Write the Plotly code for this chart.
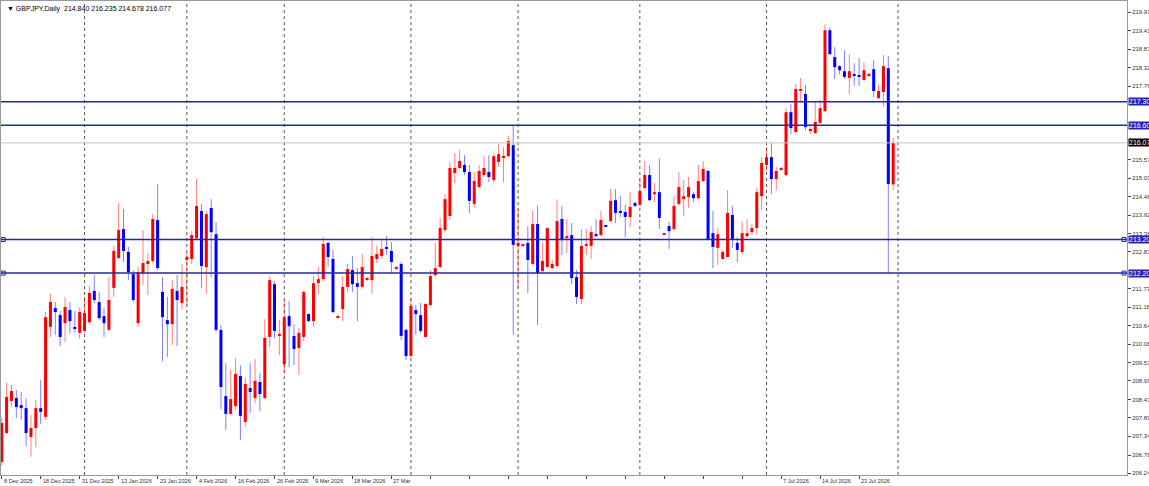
import plotly.graph_objects as go

# GBPJPY daily bars, bar 1 = 8 Dec 2025
opens = [206.58, 207.44, 208.39, 208.48, 208.27, 208.18, 207.32, 207.59, 208.18, 207.92,
         210.60, 211.16, 210.95, 210.71, 211.10, 210.57, 210.42, 210.48, 210.74, 211.67,
         211.34, 210.92, 210.51, 211.76, 212.65, 213.51, 212.83, 212.17, 210.71, 212.20,
         212.47, 212.56, 213.78, 211.64, 210.80, 210.68, 211.67, 211.31, 212.59, 212.62,
         213.24, 214.05, 212.38, 214.14, 213.36, 210.51, 208.54, 208.01, 208.24, 209.14,
         207.77, 208.78, 208.48, 208.96, 208.48, 210.30, 211.87, 210.33, 209.49, 210.92,
         210.33, 209.97, 210.30, 210.98, 210.77, 211.90, 212.02, 213.10, 212.62, 210.89,
         211.13, 211.79, 212.29, 211.90, 211.79, 212.02, 211.99, 212.62, 212.71, 212.95,
         212.86, 212.32, 212.47, 210.51, 209.73, 211.10, 210.95, 210.30, 211.25, 212.14,
         212.38, 213.48, 213.90, 215.18, 215.33, 215.42, 215.21, 214.26, 214.76, 215.12,
         215.21, 214.97, 215.51, 215.65, 215.68, 216.01, 213.01, 213.01, 213.10, 212.47,
         213.66, 212.26, 212.38, 212.35, 212.41, 213.81, 213.24, 213.33, 212.08, 211.43,
         213.01, 213.01, 213.36, 213.33, 213.61, 213.75, 214.37, 214.05, 214.02, 213.87,
         214.29, 214.23, 214.73, 215.12, 214.55, 214.61, 213.36, 213.60, 213.51, 214.26,
         214.40, 214.46, 214.55, 214.43, 214.94, 215.24, 213.39, 212.95, 212.62, 212.68,
         213.93, 213.10, 212.83, 213.30, 213.42, 213.54, 214.49, 215.42, 215.65, 215.00,
         215.27, 215.12, 216.99, 216.40, 217.62, 217.53, 216.43, 216.37, 216.67, 217.02,
         219.43, 218.63, 218.36, 218.21, 218.01, 218.12, 218.07, 217.95, 218.07, 218.27,
         217.41, 217.59, 218.30, 214.840]

highs = [207.89, 208.93, 208.87, 208.72, 208.66, 208.48, 207.98, 208.42, 209.02, 211.04,
         211.58, 211.34, 211.07, 211.49, 211.34, 211.07, 211.19, 211.49, 211.82, 212.14,
         211.64, 211.16, 212.08, 213.01, 214.29, 214.11, 212.98, 212.29, 212.38, 213.48,
         212.80, 213.96, 214.85, 212.08, 211.49, 211.99, 212.14, 212.47, 212.83, 213.45,
         215.00, 214.26, 214.05, 214.40, 213.72, 210.65, 209.52, 209.32, 209.67, 209.46,
         209.08, 209.52, 209.64, 209.23, 210.83, 212.11, 211.96, 210.80, 211.40, 211.37,
         210.68, 210.57, 211.67, 211.01, 212.11, 212.38, 213.27, 213.12, 212.89, 210.95,
         212.11, 212.47, 212.71, 212.35, 212.77, 212.08, 213.27, 213.01, 213.21, 213.30,
         213.12, 212.41, 212.53, 210.54, 211.46, 211.25, 211.31, 211.31, 212.29, 213.10,
         213.84, 214.55, 215.51, 215.77, 215.86, 215.71, 215.42, 215.21, 215.42, 215.68,
         215.71, 215.77, 216.04, 215.95, 216.28, 216.61, 214.11, 213.04, 213.60, 214.05,
         214.20, 213.10, 213.57, 212.59, 214.40, 214.20, 213.81, 213.69, 212.29, 213.51,
         213.51, 213.60, 213.81, 214.05, 213.63, 214.70, 214.70, 214.49, 214.23, 214.61,
         214.32, 215.00, 215.54, 215.42, 214.88, 215.62, 213.39, 213.72, 214.46, 215.21,
         214.97, 215.06, 214.61, 215.42, 215.54, 215.27, 214.05, 213.54, 212.89, 214.67,
         214.20, 213.27, 213.72, 213.81, 213.66, 214.73, 215.65, 215.95, 216.07, 215.36,
         215.36, 217.11, 217.23, 217.83, 218.01, 217.80, 216.55, 217.29, 217.35, 219.61,
         219.52, 218.93, 218.39, 218.84, 218.72, 218.45, 218.60, 218.48, 218.18, 218.54,
         217.80, 218.69, 218.66, 216.235]

lows = [206.46, 207.41, 208.21, 207.89, 207.83, 207.05, 206.73, 207.02, 207.71, 207.83,
        210.30, 210.36, 210.03, 210.15, 210.42, 210.42, 210.24, 210.42, 210.68, 211.31,
        210.80, 210.30, 210.48, 211.49, 212.62, 212.53, 211.99, 211.34, 210.60, 211.85,
        211.55, 212.50, 212.29, 209.58, 209.70, 210.06, 210.03, 211.13, 211.25, 212.47,
        213.18, 211.76, 211.58, 212.08, 210.45, 208.15, 207.53, 207.98, 208.12, 207.23,
        207.62, 208.04, 208.33, 208.09, 208.45, 210.00, 210.27, 209.76, 209.23, 209.40,
        209.46, 209.17, 210.18, 210.74, 210.60, 211.58, 211.96, 212.38, 211.01, 210.86,
        210.77, 211.64, 211.64, 210.77, 211.73, 211.96, 211.58, 212.50, 212.62, 212.74,
        212.20, 212.29, 210.21, 209.61, 209.70, 210.36, 210.42, 210.27, 211.19, 212.08,
        212.35, 213.42, 213.78, 214.88, 215.30, 215.12, 213.99, 214.14, 214.73, 215.06,
        214.91, 214.91, 215.36, 214.91, 215.65, 210.36, 211.76, 212.99, 211.61, 212.44,
        210.65, 212.20, 212.35, 212.32, 212.38, 212.74, 212.80, 211.87, 211.28, 211.28,
        212.74, 212.62, 213.27, 213.30, 213.57, 213.72, 213.69, 213.87, 213.27, 213.57,
        214.17, 214.20, 214.70, 214.35, 214.32, 213.51, 213.33, 212.92, 213.45, 214.20,
        213.90, 214.14, 214.32, 214.40, 214.91, 213.18, 212.35, 212.44, 212.59, 212.68,
        212.95, 212.53, 212.77, 213.24, 213.33, 213.33, 214.08, 215.24, 214.55, 214.67,
        215.24, 215.09, 216.34, 216.37, 217.29, 216.46, 216.34, 216.34, 216.64, 216.99,
        218.69, 217.98, 218.12, 217.98, 217.53, 217.77, 217.77, 217.92, 218.04, 217.44,
        217.38, 217.14, 212.20, 214.678]

closes = [207.74, 208.51, 208.69, 208.21, 208.18, 207.44, 207.59, 208.18, 208.07, 210.89,
          211.34, 211.04, 210.30, 211.19, 210.77, 210.54, 211.04, 211.01, 211.61, 211.40,
          210.86, 210.71, 211.40, 212.86, 213.48, 212.86, 212.23, 211.40, 212.23, 212.50,
          212.56, 213.81, 212.35, 210.89, 210.68, 211.73, 211.40, 211.79, 212.68, 213.33,
          214.20, 212.41, 213.96, 213.42, 210.51, 208.81, 208.01, 208.45, 209.20, 207.95,
          208.90, 208.66, 208.99, 208.60, 210.27, 211.99, 210.48, 210.39, 210.89, 210.62,
          209.94, 210.42, 211.64, 210.77, 211.90, 212.02, 213.07, 212.68, 211.04, 210.92,
          211.79, 212.32, 211.87, 211.79, 212.38, 212.04, 212.71, 212.77, 212.92, 212.92,
          212.53, 212.38, 210.33, 209.73, 211.22, 210.98, 210.48, 211.28, 212.11, 212.35,
          213.54, 214.40, 215.33, 215.33, 215.54, 215.21, 214.35, 214.94, 215.24, 215.33,
          215.06, 215.68, 215.74, 215.68, 216.13, 213.04, 213.10, 213.02, 212.59, 213.66,
          212.20, 212.56, 213.54, 212.47, 213.75, 213.18, 213.30, 212.05, 211.49, 213.01,
          213.07, 213.42, 213.30, 213.78, 213.60, 214.35, 213.99, 213.99, 213.87, 214.17,
          214.20, 214.64, 215.12, 214.37, 214.61, 213.84, 213.37, 213.45, 214.20, 214.76,
          214.49, 214.76, 214.43, 214.94, 215.30, 213.21, 212.98, 213.36, 212.83, 213.99,
          213.21, 212.89, 213.39, 213.39, 213.54, 214.61, 215.48, 215.65, 215.00, 215.24,
          215.33, 216.99, 216.52, 217.68, 217.68, 216.55, 216.49, 216.70, 217.11, 219.43,
          218.72, 218.33, 218.24, 218.04, 218.21, 218.09, 218.04, 218.24, 218.09, 217.62,
          217.62, 218.36, 214.85, 216.077]

bars = list(range(1, len(opens) + 1))

# date labels every 8 bars (the terminal left the middle ones blank)
date_tick_bars = [1, 9, 17, 25, 33, 41, 49, 57, 65, 73, 81, 89, 97, 105, 113, 121,
                  129, 137, 145, 153, 161, 169, 177]
date_tick_text = ['8 Dec 2025', '18 Dec 2025', '31 Dec 2025', '13 Jan 2026', '23 Jan 2026',
                  '4 Feb 2026', '16 Feb 2026', '26 Feb 2026', '9 Mar 2026', '18 Mar 2026',
                  '27 Mar', '', '', '', '', '', '', '', '', '',
                  '7 Jul 2026', '14 Jul 2026', '23 Jul 2026']

# first bar of each month -> period separators
month_start_bars = [18, 39, 59, 85, 107, 132, 158, 185]

price_ticks = [219.970, 219.415, 218.870, 218.320, 217.760, 215.575, 215.030, 214.480,
               213.925, 213.380, 212.830, 211.735, 211.180, 210.640, 210.085, 209.530,
               208.990, 208.435, 207.890, 207.340, 206.785, 206.245]

# horizontal support/resistance lines drawn on the chart
level_prices = [217.30, 216.60, 213.20, 212.20]
level_labels = ['217.300', '216.600', '213.200', '212.200']
selected_levels = [213.20, 212.20]

UP = '#ff0000'
DOWN = '#0000ff'
LEVEL = '#2424a8'
FONT = 'Liberation Sans'

x_range = [0.85, 232]
y_range = [206.19, 220.30]

fig = go.Figure()

# wicks, lighter than the bodies like the terminal draws them
for up, col in [(True, 'rgba(255,0,0,0.5)'), (False, 'rgba(0,0,255,0.5)')]:
    wx, wy = [], []
    for b, o, h, l, c in zip(bars, opens, highs, lows, closes):
        if (c >= o) == up:
            wx += [b, b, None]
            wy += [l, h, None]
    fig.add_trace(go.Scatter(x=wx, y=wy, mode='lines', line=dict(color=col, width=1),
                             hoverinfo='skip'))

# bodies
body_base = [min(o, c) for o, c in zip(opens, closes)]
body_len = [max(abs(c - o), 0.035) for o, c in zip(opens, closes)]
body_col = [UP if c >= o else DOWN for o, c in zip(opens, closes)]
fig.add_trace(go.Bar(x=bars, y=body_len, base=body_base, width=0.62,
                     marker=dict(color=body_col, line=dict(width=0))))

# anchor squares on the selected lines
for lv in selected_levels:
    fig.add_trace(go.Scatter(x=[x_range[0] + 0.45, x_range[1] - 0.6], y=[lv, lv], mode='markers',
                             marker=dict(symbol='square-open', size=4, color=LEVEL,
                                         line=dict(width=1, color=LEVEL)),
                             cliponaxis=False, hoverinfo='skip'))

shapes = []
for b in month_start_bars:
    shapes.append(dict(type='line', xref='x', yref='paper', x0=b, x1=b, y0=0, y1=1,
                       line=dict(color='#555555', width=1, dash='dot'), layer='below'))
for lv in level_prices:
    shapes.append(dict(type='line', xref='paper', yref='y', x0=0, x1=1, y0=lv, y1=lv,
                       line=dict(color=LEVEL, width=1.5)))
# bid line
shapes.append(dict(type='line', xref='paper', yref='y', x0=0, x1=1, y0=closes[-1], y1=closes[-1],
                   line=dict(color='#c4c4c4', width=1)))

annotations = []
for lv, txt in zip(level_prices, level_labels):
    annotations.append(dict(x=1, xref='paper', y=lv, yref='y', xanchor='left', xshift=1,
                            text=txt, showarrow=False, bgcolor=LEVEL, borderpad=0,
                            font=dict(family=FONT, size=7, color='white')))
annotations.append(dict(x=1, xref='paper', y=closes[-1], yref='y', xanchor='left', xshift=1,
                        text=f'{closes[-1]:.3f}', showarrow=False, bgcolor='black', borderpad=0,
                        font=dict(family=FONT, size=7, color='white')))
annotations.append(dict(x=0, xref='paper', y=1, yref='paper', xanchor='left', yanchor='top',
                        xshift=4, yshift=-2, showarrow=False,
                        text=f'\u25bc GBPJPY,Daily  {opens[-1]:.3f} {highs[-1]:.3f} {lows[-1]:.3f} {closes[-1]:.3f}',
                        font=dict(family=FONT, size=7, color='black')))
# date labels start at their tick, MT4 style
for b, txt in zip(date_tick_bars, date_tick_text):
    if txt:
        annotations.append(dict(x=b, xref='x', y=0, yref='paper', xanchor='left', yanchor='top',
                                xshift=0, yshift=-1, showarrow=False, text=txt,
                                font=dict(family=FONT, size=5.6, color='#333')))

fig.update_layout(
    width=1149, height=486,
    margin=dict(l=1, r=22, t=1, b=11),
    paper_bgcolor='white', plot_bgcolor='white',
    showlegend=False, template='none',
    shapes=shapes, annotations=annotations,
    xaxis=dict(range=x_range, tickvals=date_tick_bars, showticklabels=False,
               ticks='outside', ticklen=3, tickcolor='#444',
               showgrid=False, zeroline=False, showline=True, mirror=True,
               linecolor='#999999', linewidth=1, automargin=False, fixedrange=True),
    yaxis=dict(range=y_range, side='right', tickvals=price_ticks,
               ticktext=[f'{p:.3f}' for p in price_ticks],
               ticks='outside', ticklen=3, tickcolor='#444',
               tickfont=dict(family=FONT, size=6, color='#333'),
               showgrid=False, zeroline=False, showline=True, mirror=True,
               linecolor='#999999', linewidth=1, automargin=False, fixedrange=True),
)

fig.write_html('out.html', config={'displayModeBar': False},
               post_script="document.body.style.margin='0';")
